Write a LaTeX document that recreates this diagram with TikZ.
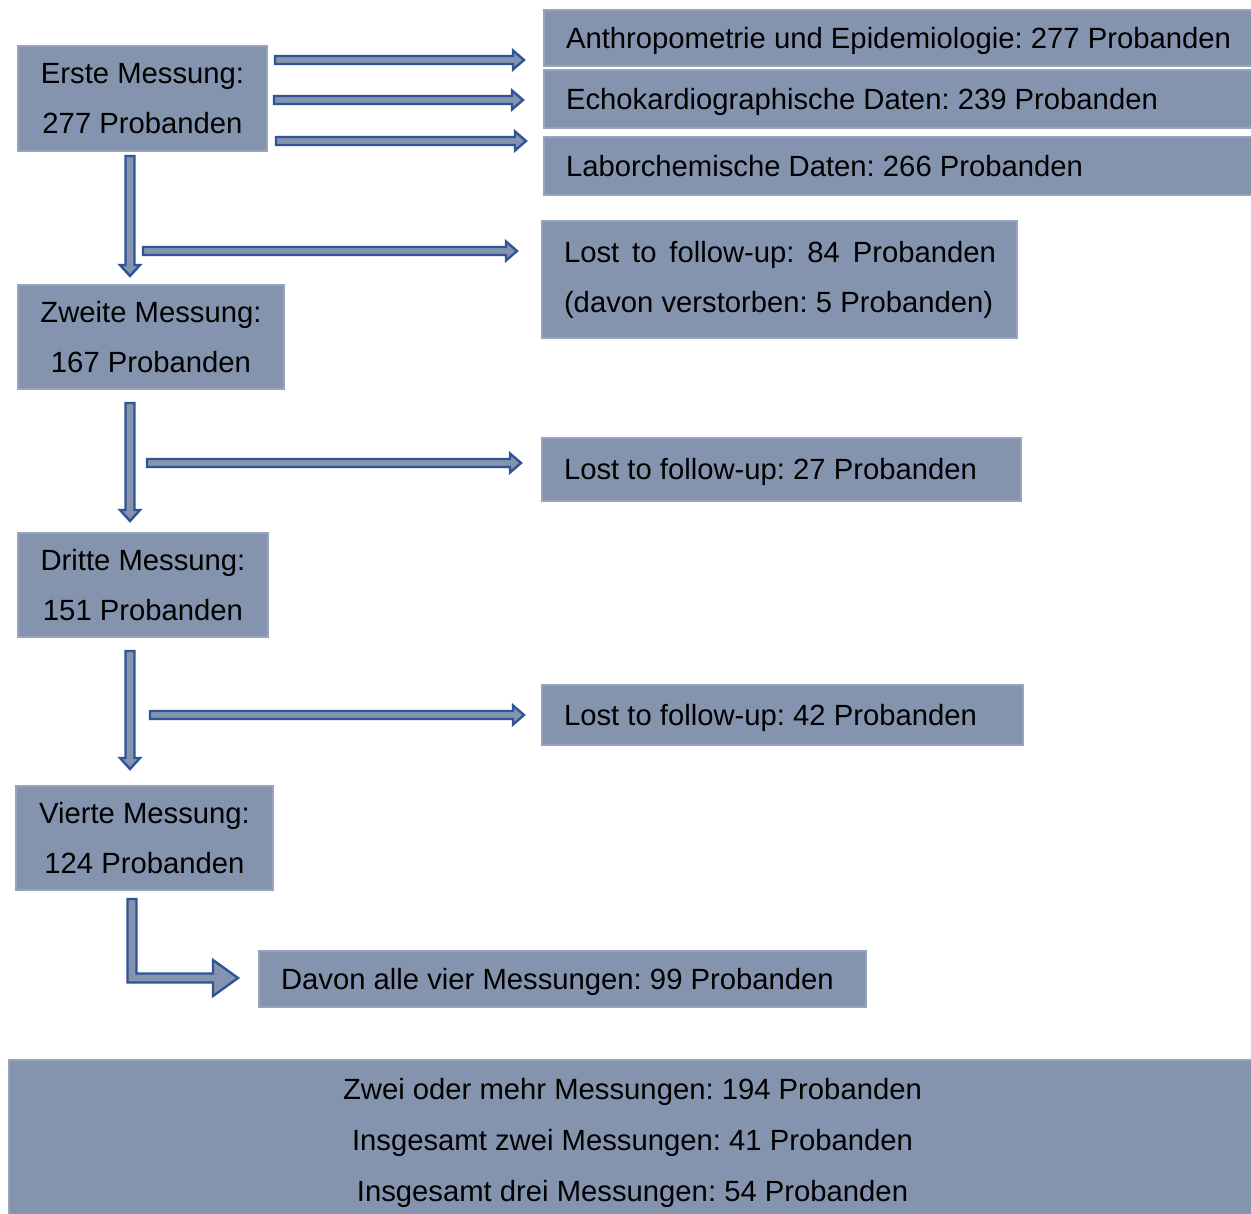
\documentclass[tikz,border=0pt]{standalone}
\usepackage{fontspec}
\setmainfont{Liberation Sans}
\frenchspacing
\hyphenpenalty=10000
\definecolor{boxfill}{HTML}{8594AE}
\definecolor{boxedge}{HTML}{97A5BC}
\definecolor{arrline}{HTML}{2F5597}
\newcommand\nsp{\spaceskip=0pt\xspaceskip=0pt\relax}
\newcommand\myline[1]{\mbox{\nsp #1}}
\newcommand\myharrow[3]{%
  \draw[arrowline] (#1,#2-4) -- (#3-11,#2-4) -- (#3-11,#2-9.5) -- (#3,#2) -- (#3-11,#2+9.5) -- (#3-11,#2+4) -- (#1,#2+4) -- cycle;}
\newcommand\myvarrow[3]{%
  \draw[arrowline] (#1-4.5,#2) -- (#1-4.5,#3-11) -- (#1-10,#3-11) -- (#1,#3) -- (#1+10,#3-11) -- (#1+4.5,#3-11) -- (#1+4.5,#2) -- cycle;}
\tikzset{
  arrowline/.style={draw=arrline, fill=boxfill, line width=2.4pt, line join=miter},
  basebox/.style={rectangle, draw=boxedge, fill=boxfill, line width=1.5pt, inner ysep=0pt, outer sep=0pt,
    font=\fontsize{29.25pt}{50pt}\selectfont, text=black},
  cbox/.style={basebox, align=center, inner xsep=0pt},
  lbox/.style={basebox, align=left, inner xsep=22pt, text width=#1},
  oneline/.style={text height=21pt, text depth=0pt},
}
\begin{document}
\begin{tikzpicture}[x=1pt,y=-1pt]
\useasboundingbox (0,0) rectangle (1251,1214);
% left column
\node[cbox, minimum width=249pt, minimum height=105pt] (erste) at (142.5,98.5) {Erste Messung:\\277 Probanden};
\node[cbox, minimum width=266pt, minimum height=104pt] (zweite) at (151,337) {Zweite Messung:\\167 Probanden};
\node[cbox, minimum width=250pt, minimum height=104pt] (dritte) at (143,585) {Dritte Messung:\\151 Probanden};
\node[cbox, minimum width=257pt, minimum height=104pt] (vierte) at (144.5,838) {Vierte Messung:\\124 Probanden};
% right column
\node[lbox=668pt, oneline, minimum width=712pt, minimum height=56pt] (anth) at (900,38) {\myline{Anthropometrie und Epidemiologie: 277 Probanden}};
\node[lbox=668pt, oneline, minimum width=712pt, minimum height=58pt] (echo) at (900,99) {\myline{Echokardiographische Daten: 239 Probanden}};
\node[lbox=668pt, oneline, minimum width=712pt, minimum height=58pt] (labor) at (900,166) {\myline{Laborchemische Daten: 266 Probanden}};
\node[lbox=431pt, minimum width=475pt, minimum height=117pt] (lost1) at (779.5,279.5) {\makebox[432pt][s]{\nsp Lost to follow-up: 84 Probanden}\\\myline{(davon verstorben: 5 Probanden)}};
\node[lbox=435pt, oneline, minimum width=479pt, minimum height=63pt] (lost2) at (781.5,469.5) {\myline{Lost to follow-up: 27 Probanden}};
\node[lbox=437pt, oneline, minimum width=481pt, minimum height=60pt] (lost3) at (782.5,715) {\myline{Lost to follow-up: 42 Probanden}};
\node[lbox=563pt, oneline, minimum width=607pt, minimum height=56pt] (davon) at (562.5,979) {\myline{Davon alle vier Messungen: 99 Probanden}};
\node[cbox, minimum width=1247pt, minimum height=166pt, font=\fontsize{29.25pt}{51pt}\selectfont] (summe) at (632.5,1143) {Zwei oder mehr Messungen: 194 Probanden\\Insgesamt zwei Messungen: 41 Probanden\\Insgesamt drei Messungen: 54 Probanden};
% arrows
\myharrow{275}{60}{524}
\myharrow{274}{100}{523}
\myharrow{276}{141}{526}
\myvarrow{130}{156}{276}
\myharrow{143}{251}{517}
\myvarrow{130}{403}{521}
\myharrow{147}{463}{521}
\myvarrow{130}{651}{769}
\myharrow{150}{715}{524}
\draw[arrowline] (127.5,899) -- (127.5,982.5) -- (213,982.5) -- (213,996) -- (238,978) -- (213,960) -- (213,973.5) -- (136.5,973.5) -- (136.5,899) -- cycle;
\end{tikzpicture}
\end{document}
